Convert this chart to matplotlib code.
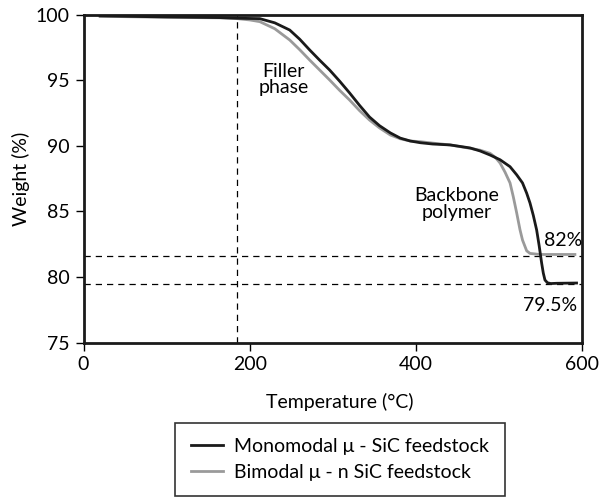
import matplotlib
matplotlib.use("Agg")
import matplotlib.pyplot as plt

plt.rcParams['font.family'] = ['Lato', 'DejaVu Sans']

# Monomodal mu-SiC feedstock (black)
mono_temp = [20, 100, 164, 185, 212, 230, 248, 260, 272, 284, 296, 308, 320, 332, 344,
             356, 369, 381, 393, 405, 420, 441, 465, 477, 489, 501, 513, 521, 528, 533,
             537, 541, 545, 548, 551, 553, 555, 558, 562, 569, 593]
mono_weight = [99.93, 99.85, 99.8, 99.75, 99.72, 99.4, 98.85, 98.15, 97.33, 96.55, 95.8,
               94.95, 94.05, 93.1, 92.21, 91.55, 91.0, 90.6, 90.38, 90.25, 90.15, 90.08,
               89.85, 89.62, 89.31, 88.95, 88.42, 87.8, 87.18, 86.4, 85.65, 84.7, 83.59,
               82.4, 81.07, 80.3, 79.77, 79.56, 79.5, 79.52, 79.54]

# Bimodal mu-n SiC feedstock (grey)
bi_temp = [20, 100, 164, 185, 200, 212, 230, 248, 260, 272, 284, 296, 308, 320, 332, 344,
           356, 369, 381, 393, 405, 420, 441, 465, 477, 489, 495, 501, 507, 513, 517, 521,
           525, 528, 533, 537, 549, 591]
bi_weight = [99.9, 99.82, 99.78, 99.72, 99.62, 99.49, 98.95, 98.09, 97.35, 96.56, 95.8,
             95.04, 94.25, 93.51, 92.7, 91.98, 91.38, 90.84, 90.55, 90.38, 90.33, 90.22,
             90.08, 89.82, 89.68, 89.44, 89.15, 88.7, 88.0, 87.18, 86.1, 84.89, 83.6,
             82.82, 82.0, 81.8, 81.72, 81.72]

residue_levels = [81.64, 79.5]
filler_start = 185

FS = 14

fig = plt.figure(figsize=(6.01, 4.99), dpi=100)
ax = fig.add_axes([0.139, 0.3136, 0.830, 0.6564])

ax.plot(mono_temp, mono_weight, color='#1a1a1a', lw=2.0, label='Monomodal μ - SiC feedstock', zorder=3)
ax.plot(bi_temp, bi_weight, color='#9a9a9a', lw=2.0, label='Bimodal μ - n SiC feedstock', zorder=2)

for lvl in residue_levels:
    ax.axhline(lvl, color='black', lw=0.9, ls=(0, (5, 4)), zorder=1)
ax.axvline(filler_start, color='black', lw=0.9, ls=(0, (5, 4)), zorder=1)

ax.text(241, 95.1, 'Filler\nphase', ha='center', va='center', fontsize=FS, linespacing=0.95)
ax.text(449, 85.57, 'Backbone\npolymer', ha='center', va='center', fontsize=FS, linespacing=0.95)
ax.text(577, 82.82, '82%', ha='center', va='center', fontsize=FS, clip_on=False)
ax.text(561, 77.86, '79.5%', ha='center', va='center', fontsize=FS)

ax.set_xlim(0, 600)
ax.set_ylim(75, 100)
ax.set_xticks([0, 200, 400, 600])
ax.set_yticks([75, 80, 85, 90, 95, 100])
ax.tick_params(direction='out', length=6, width=1.0, labelsize=FS, pad=4,
               top=False, right=False)
for sp in ax.spines.values():
    sp.set_linewidth(2.0)
    sp.set_color('#1a1a1a')

ax.set_xlabel('Temperature (°C)', fontsize=FS, labelpad=11)
ax.xaxis.set_label_coords(0.514, -0.155)
ax.set_ylabel('Weight (%)', fontsize=FS, labelpad=4)

leg = fig.legend(loc='upper center', bbox_to_anchor=(340 / 601, 1 - 423 / 499),
                 borderaxespad=0, fontsize=FS, frameon=True, fancybox=False,
                 edgecolor='black', handlelength=1.65, borderpad=0.78,
                 labelspacing=0.45, handletextpad=0.6)
leg.get_frame().set_linewidth(1.2)

fig.savefig('out.png', dpi=100)
